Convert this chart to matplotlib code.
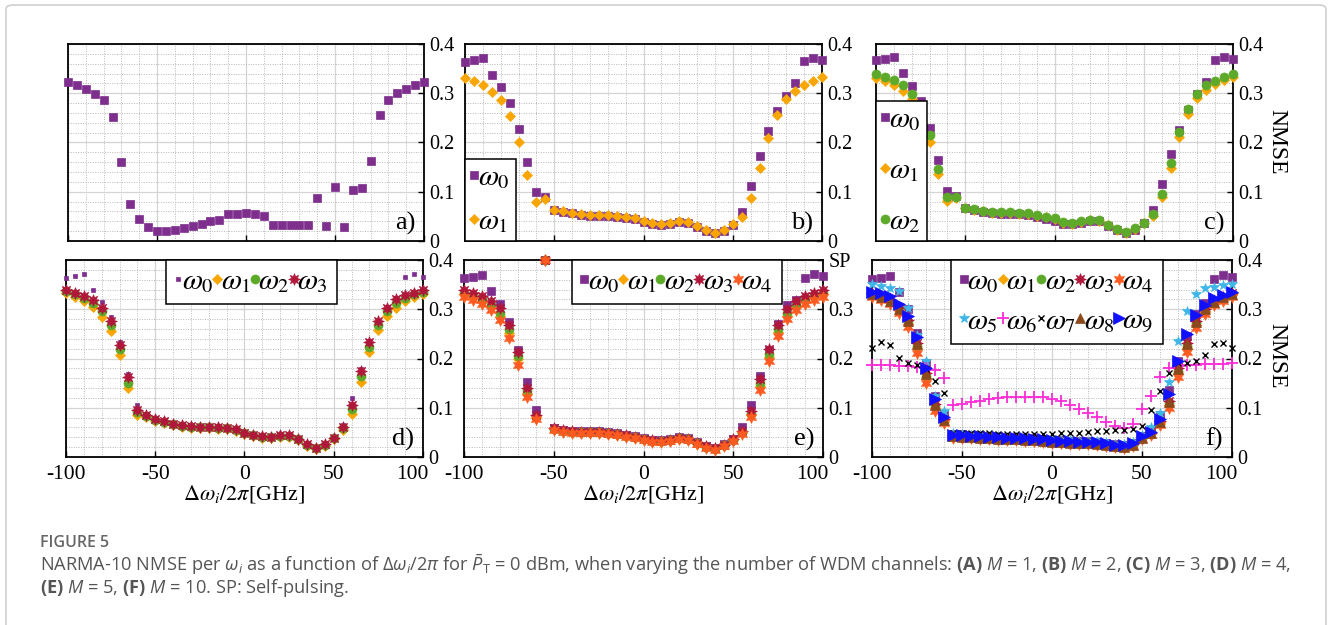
# -*- coding: utf-8 -*-
"""
NARMA-10 NMSE per channel vs detuning, for M = 1, 2, 3, 4, 5 and 10 WDM channels.
"""

import matplotlib
matplotlib.use("Agg")
import matplotlib.pyplot as plt
from matplotlib.ticker import MultipleLocator, FuncFormatter
from matplotlib.patches import FancyBboxPatch

plt.rcParams.update({
    "font.family": "Liberation Serif",
    "mathtext.fontset": "stix",
    "mathtext.rm": "Open Sans",
    "mathtext.it": "Open Sans:italic",
    "mathtext.bf": "Open Sans:bold",
    "axes.unicode_minus": False,
})

# ============================================================
# 1. DATA
# ============================================================
DETUNING = list(range(-100, 105, 5))   # Delta omega_i / 2 pi [GHz]

# (a) M = 1
A0 = [.322, .316, .309, .299, .286, .252, .160, .076, .045, .028,
      .021, .020, .022, .027, .031, .035, .040, .042, .054, .055,
      .057,
      .055, .050, .033, .033, .033, .033, .033, .087, .031, .110,
      .029, .103, .108, .163, .256, .287, .300, .309, .316, .322]

# (b) M = 2
B0 = [.364, .367, .371, .338, .312, .281, .228, .161, .099, .089,
      .062, .059, .056, .052, .051, .050, .050, .049, .047, .044,
      .039,
      .035, .032, .034, .038, .036, .029, .020, .016, .021, .032,
      .059, .111, .172, .223, .264, .294, .320, .366, .371, .367]
B1 = [.330, .324, .316, .303, .286, .254, .201, .134, .080, .085,
      .063, .060, .057, .055, .053, .052, .052, .051, .049, .046,
      .041,
      .037, .034, .037, .041, .039, .031, .022, .017, .023, .034,
      .048, .087, .148, .209, .255, .288, .305, .317, .325, .332]

# (c) M = 3
C0 = [.367, .369, .374, .341, .315, .284, .230, .164, .102, .091,
      .068, .063, .059, .057, .055, .055, .055, .052, .049, .044,
      .041,
      .035, .034, .037, .041, .040, .031, .022, .016, .023, .037,
      .063, .115, .176, .225, .266, .298, .322, .367, .374, .370]
C1 = [.331, .325, .317, .305, .289, .256, .202, .136, .082, .087,
      .066, .063, .060, .057, .056, .056, .055, .054, .051, .048,
      .044,
      .037, .035, .039, .042, .041, .032, .022, .016, .025, .036,
      .051, .089, .148, .211, .257, .290, .307, .319, .327, .334]
C2 = [.339, .334, .327, .316, .299, .267, .215, .147, .089, .089,
      .068, .065, .061, .059, .058, .058, .057, .056, .053, .049,
      .046,
      .039, .037, .040, .043, .042, .033, .024, .018, .026, .037,
      .055, .095, .158, .221, .268, .298, .316, .325, .333, .339]

# (d) M = 4
D0 = [.364, .367, .371, .339, .314, .285, .234, .169, .105, .087,
      .078, .074, .069, .065, .063, .062, .062, .061, .060, .057,
      .050,
      .046, .043, .042, .045, .045, .038, .027, .020, .027, .040,
      .064, .120, .178, .235, .276, .305, .322, .366, .371, .366]
D1 = [.332, .325, .317, .305, .285, .256, .207, .140, .085, .082,
      .074, .070, .065, .061, .059, .058, .058, .057, .056, .053,
      .046,
      .042, .039, .038, .041, .041, .034, .023, .016, .023, .036,
      .054, .088, .153, .214, .258, .286, .303, .317, .324, .330]
D2 = [.337, .331, .323, .312, .296, .268, .219, .151, .092, .084,
      .076, .072, .067, .063, .061, .060, .060, .059, .058, .055,
      .048,
      .044, .041, .040, .043, .043, .036, .025, .018, .025, .038,
      .058, .098, .165, .224, .268, .296, .313, .323, .330, .336]
D3 = [.339, .334, .327, .319, .303, .276, .228, .163, .095, .085,
      .077, .073, .068, .064, .062, .061, .061, .060, .059, .056,
      .049,
      .045, .042, .041, .044, .044, .037, .026, .019, .026, .039,
      .060, .105, .174, .233, .276, .303, .320, .329, .334, .339]

# (e) M = 5  (0.4 at -55 GHz = self-pulsing)
E0 = [.363, .366, .369, .338, .311, .275, .217, .153, .095, .400,
      .059, .055, .053, .052, .052, .052, .050, .048, .045, .042,
      .038,
      .035, .034, .036, .040, .038, .030, .023, .019, .026, .037,
      .061, .105, .165, .218, .271, .308, .319, .364, .371, .367]
E1 = [.330, .324, .316, .304, .287, .252, .198, .130, .080, .400,
      .056, .052, .050, .049, .049, .049, .047, .045, .042, .039,
      .035,
      .032, .031, .033, .037, .035, .027, .020, .016, .023, .034,
      .049, .085, .145, .203, .253, .287, .304, .316, .324, .330]
E2 = [.334, .328, .320, .309, .293, .259, .205, .136, .083, .400,
      .057, .053, .051, .050, .050, .050, .048, .046, .043, .040,
      .036,
      .033, .032, .034, .038, .036, .028, .021, .017, .024, .035,
      .050, .088, .150, .210, .260, .293, .309, .320, .328, .334]
E3 = [.339, .332, .327, .317, .302, .268, .214, .141, .085, .400,
      .058, .054, .052, .051, .051, .051, .049, .047, .044, .041,
      .037,
      .034, .033, .035, .039, .037, .029, .022, .018, .025, .036,
      .052, .093, .159, .219, .269, .300, .317, .327, .334, .339]
E4 = [.325, .319, .311, .298, .279, .241, .186, .121, .078, .400,
      .054, .051, .049, .048, .048, .048, .046, .044, .041, .038,
      .034,
      .031, .030, .032, .036, .034, .026, .019, .015, .022, .033,
      .047, .081, .136, .195, .245, .280, .298, .311, .319, .325]

# (f) M = 10
F0 = [.361, .363, .368, .336, .300, .252, .190, .123, .088, .047,
      .046, .045, .044, .043, .042, .041, .040, .039, .038, .037,
      .035,
      .034, .033, .032, .032, .031, .029, .026, .025, .029, .043,
      .055, .085, .136, .195, .245, .290, .312, .361, .370, .366]
F1 = [.328, .322, .314, .298, .270, .222, .160, .100, .072, .040,
      .040, .039, .038, .037, .036, .035, .035, .034, .033, .032,
      .030,
      .029, .028, .027, .027, .026, .024, .021, .020, .024, .038,
      .046, .068, .105, .170, .222, .268, .295, .311, .320, .328]
F2 = [.331, .325, .317, .301, .274, .226, .165, .104, .075, .042,
      .041, .040, .039, .038, .037, .036, .036, .035, .034, .033,
      .031,
      .030, .029, .028, .028, .027, .025, .022, .021, .025, .039,
      .048, .071, .110, .175, .226, .272, .298, .314, .323, .331]
F3 = [.333, .327, .320, .305, .279, .232, .170, .108, .077, .043,
      .042, .041, .040, .039, .038, .037, .037, .036, .035, .034,
      .032,
      .031, .030, .029, .029, .028, .026, .023, .022, .026, .040,
      .049, .073, .114, .180, .231, .276, .301, .316, .325, .333]
F4 = [.325, .318, .310, .293, .263, .212, .150, .094, .069, .039,
      .039, .038, .037, .036, .035, .034, .034, .033, .032, .031,
      .029,
      .028, .027, .026, .026, .025, .023, .020, .019, .023, .037,
      .044, .064, .100, .163, .214, .262, .291, .308, .317, .325]
F5 = [.351, .348, .344, .337, .303, .247, .195, .123, .093, .048,
      .046, .045, .044, .043, .042, .041, .041, .040, .039, .038,
      .036,
      .035, .034, .033, .033, .032, .030, .027, .026, .030, .044,
      .060, .090, .153, .236, .297, .330, .343, .346, .349, .351]
F6 = [.186, .186, .186, .185, .185, .182, .180, .177, .160, .105,
      .107, .111, .114, .117, .119, .121, .122, .122, .122, .121,
      .118,
      .113, .106, .097, .089, .081, .072, .062, .058, .066, .098,
      .123, .163, .180, .184, .186, .187, .188, .188, .189, .190]
F7 = [.221, .233, .228, .202, .191, .187, .178, .155, .130, .049,
      .049, .048, .048, .048, .047, .047, .047, .047, .047, .047,
      .047,
      .048, .048, .049, .050, .052, .053, .054, .055, .056, .062,
      .095, .135, .170, .190, .190, .195, .207, .229, .231, .221]
F8 = [.330, .324, .316, .300, .276, .230, .168, .106, .076, .042,
      .041, .040, .039, .038, .037, .036, .036, .035, .034, .033,
      .031,
      .030, .029, .028, .028, .027, .025, .022, .021, .025, .039,
      .048, .072, .112, .178, .229, .274, .300, .315, .324, .330]
F9 = [.336, .332, .326, .310, .287, .243, .180, .118, .082, .045,
      .044, .043, .042, .041, .040, .039, .039, .038, .037, .036,
      .034,
      .033, .032, .031, .031, .030, .028, .025, .024, .028, .042,
      .051, .078, .128, .195, .249, .289, .309, .322, .329, .336]

# ============================================================
# 2. MARKER STYLES (one per channel omega_k)
# ============================================================
ESTILOS = [
    dict(marker="s", color="#7E2F8E", ms=5.5),
    dict(marker="D", color="#F9A602", ms=5.5),
    dict(marker="o", color="#5DAA2A", ms=6.5),
    dict(marker=(8, 1, 0), color="#B0173A", ms=8.5),
    dict(marker=(6, 1, 0), color="#FF5A1F", ms=8.5),
    dict(marker="*", color="#3FB6E8", ms=7.5),
    dict(marker="+", color="#FF2BD6", ms=8, mew=1.3),
    dict(marker="x", color="black", ms=5, mew=1.0),
    dict(marker="^", color="#8B4A1C", ms=7.5),
    dict(marker=">", color="#1010FF", ms=8.5),
]

W = 1332.0
H = 625.0


def caja(x0, y0, x1, y1):
    """Pixel box (from top-left) -> figure fraction [left, bottom, width, height]."""
    return [x0 / W, 1 - y1 / H, (x1 - x0) / W, (y1 - y0) / H]


def fmt_x(v, pos):
    # the "100" label is drawn apart, slightly left of its tick (clear of the "0")
    if abs(v - 100) < 1e-6:
        return ""
    return "%d" % v


def dibujar_panel(ax, series, letra, abajo, sp=False, ms0=None):
    for k, y in enumerate(series):
        est = dict(ESTILOS[k])
        if k == 0 and ms0 is not None:
            est["ms"] = ms0
        ax.plot(DETUNING, y, ls="none", mec=est["color"], mfc=est["color"],
                label=r"$\omega_{%d}$" % k, clip_on=False, zorder=3 + k,
                marker=est["marker"], ms=est["ms"], mew=est.get("mew", 0.5),
                color=est["color"])

    ax.set_xlim(-100, 100)
    ax.set_ylim(0, 0.4)
    ax.xaxis.set_major_locator(MultipleLocator(50))
    ax.xaxis.set_minor_locator(MultipleLocator(10))
    ax.yaxis.set_major_locator(MultipleLocator(0.1))
    ax.yaxis.set_minor_locator(MultipleLocator(0.02))
    ax.grid(True, which="major", color="#d4d4d4", lw=0.9, ls="-", zorder=0)
    ax.grid(True, which="minor", color="#b8b8b8", lw=0.7, ls=(0, (1, 1.5)), zorder=0)
    ax.set_axisbelow(True)

    ax.yaxis.tick_right()
    ax.tick_params(which="both", direction="in", top=False, left=False, right=True,
                   labelsize=14.5, pad=4)
    ax.tick_params(which="major", length=4, width=1)
    ax.tick_params(which="minor", length=0)
    ax.tick_params(axis="x", labelbottom=abajo, pad=6, labelsize=15.5)

    def fmt_y(v, pos):
        if sp and abs(v - 0.4) < 1e-6:
            return "SP"
        return "%g" % round(v, 2)
    ax.yaxis.set_major_formatter(FuncFormatter(fmt_y))
    ax.xaxis.set_major_formatter(FuncFormatter(fmt_x))

    for s in ax.spines.values():
        s.set_linewidth(1.3)

    ax.text(0.975, 0.03, letra, transform=ax.transAxes, ha="right", va="bottom",
            fontsize=19, zorder=20)

    if abajo:
        ax.set_xlabel(r"$\Delta\omega_i/2\pi$[GHz]", fontsize=16, labelpad=-1)
        ax.annotate("100", xy=(100, 0), xycoords=("data", "axes fraction"),
                    xytext=(-8, -6), textcoords="offset points",
                    ha="center", va="top", fontsize=15.5)


def leyenda(ax, ncol, orden=None, **kw):
    h, l = ax.get_legend_handles_labels()
    if orden is not None:
        h = [h[i] for i in orden]
        l = [l[i] for i in orden]
    opciones = dict(prop={"size": 21}, handlelength=0.25, handletextpad=0.0,
                    columnspacing=0.0, borderpad=0.2)
    opciones.update(kw)
    leg = ax.legend(h, l, ncol=ncol, frameon=True, fancybox=False,
                    edgecolor="black", framealpha=1, borderaxespad=0,
                    markerscale=1.0, **opciones)
    leg.get_frame().set_linewidth(1.1)
    leg.set_zorder(30)
    return leg


# ============================================================
# 3. FIGURE
# ============================================================
fig = plt.figure(figsize=(W / 100, H / 100), dpi=100)
fig.patch.set_facecolor("white")

ax_a = fig.add_axes(caja(68, 44, 424, 241))
ax_b = fig.add_axes(caja(465, 44, 822, 241))
ax_c = fig.add_axes(caja(876, 44, 1233, 241))
ax_d = fig.add_axes(caja(66, 260, 423, 457))
ax_e = fig.add_axes(caja(464, 260, 823, 457))
ax_f = fig.add_axes(caja(872, 260, 1232, 457))

dibujar_panel(ax_a, [A0], "a)", False)
dibujar_panel(ax_b, [B0, B1], "b)", False)
dibujar_panel(ax_c, [C0, C1, C2], "c)", False)
dibujar_panel(ax_d, [D0, D1, D2, D3], "d)", True, ms0=3.5)
dibujar_panel(ax_e, [E0, E1, E2, E3, E4], "e)", True, sp=True)
dibujar_panel(ax_f, [F0, F1, F2, F3, F4, F5, F6, F7, F8, F9], "f)", True)

leyenda(ax_b, 1, loc="lower left", bbox_to_anchor=(0, 0), labelspacing=0.6)
leyenda(ax_c, 1, loc="lower left", bbox_to_anchor=(0, 0), labelspacing=0.85)
leyenda(ax_d, 4, loc="upper left", bbox_to_anchor=(0.28, 1.0), borderpad=0.3)
leyenda(ax_e, 5, loc="upper left", bbox_to_anchor=(0.30, 1.0), borderpad=0.3)
leyenda(ax_f, 5, orden=[0, 5, 1, 6, 2, 7, 3, 8, 4, 9], loc="upper left",
        bbox_to_anchor=(0.22, 1.0), labelspacing=0.45, borderpad=0.3)

fig.text(1277 / W, 1 - 142 / H, "NMSE", rotation=270, ha="center", va="center",
         fontsize=17)
fig.text(1277 / W, 1 - 356 / H, "NMSE", rotation=270, ha="center", va="center",
         fontsize=17)

# ============================================================
# 4. CAPTION AND FRAME
# ============================================================
gris = "#555555"
fig.text(40 / W, 1 - 543 / H, "FIGURE 5", family="Open Sans", fontsize=11.5,
         weight="semibold", color="#666666", va="center")
linea1 = (r"NARMA-10 NMSE per $\omega_i$ as a function of $\Delta\omega_i/2\pi$ for "
          r"$\bar{P}_\mathrm{T}$ = 0 dBm, when varying the number of WDM channels: "
          r"$\mathbf{(A)}$ $M$ = 1, $\mathbf{(B)}$ $M$ = 2, $\mathbf{(C)}$ $M$ = 3, "
          r"$\mathbf{(D)}$ $M$ = 4,")
linea2 = r"$\mathbf{(E)}$ $M$ = 5, $\mathbf{(F)}$ $M$ = 10. SP: Self-pulsing."
fig.text(40 / W, 1 - 565 / H, linea1, family="Open Sans", fontsize=13.15,
         color=gris, va="center", math_fontfamily="custom")
fig.text(40 / W, 1 - 588 / H, linea2, family="Open Sans", fontsize=13.15,
         color=gris, va="center", math_fontfamily="custom")

marco = FancyBboxPatch((6 / W, -0.05), 1320 / W, 0.05 + 620 / H,
                       boxstyle="round,pad=0,rounding_size=0.006",
                       transform=fig.transFigure, fc="none", ec="#cfcfcf", lw=1.2)
fig.add_artist(marco)

fig.savefig("out.png", dpi=100, facecolor="white")
